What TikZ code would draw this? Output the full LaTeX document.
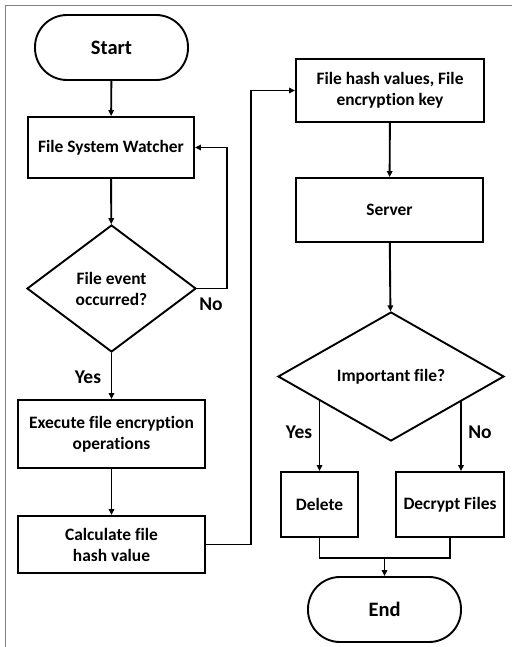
\documentclass[tikz,border=0pt]{standalone}
\usepackage{fontspec}
\setmainfont[Ligatures=NoCommon]{Carlito}
\usetikzlibrary{shapes.geometric,arrows.meta,calc}
\begin{document}
\begin{tikzpicture}[x=1pt,y=-1pt,
  box/.style={draw, line width=1.9pt, rectangle, align=center, inner sep=0pt,
    font=\fontsize{17.4}{21}\selectfont\bfseries},
  term/.style={box, rounded corners=32pt, font=\fontsize{20.5}{24}\selectfont\bfseries},
  dec/.style={draw, diamond, line width=1.9pt, align=center, inner sep=0pt,
    font=\fontsize{17.4}{21}\selectfont\bfseries},
  lab/.style={font=\fontsize{19.5}{23}\selectfont\bfseries, inner sep=0pt},
  arr/.style={line width=1.9pt, -{Triangle[length=6pt,width=5.5pt]}},
  conn/.style={line width=1.9pt}]
\useasboundingbox (0,0) rectangle (512,647);
\draw[gray, line width=1pt] (5.5,647) -- (5.5,6) -- (512,6);

\node[term, minimum width=153, minimum height=65] (start) at (111.5,47.5) {Start};
\node[box, minimum width=166, minimum height=61] (fsw) at (111,147.5) {File System Watcher};
\node[dec, minimum width=169, minimum height=127] (d1) at (111.5,288.5) {File event\\occurred?};
\node[box, minimum width=187, minimum height=68] (exec) at (111.5,434) {Execute file encryption\\operations};
\node[box, minimum width=187, minimum height=57] (calc) at (111.5,544.5) {Calculate file\\hash value};
\node[box, minimum width=188, minimum height=63] (hash) at (390,90.5) {File hash values, File\\encryption key};
\node[box, minimum width=187, minimum height=64] (server) at (389.5,210) {Server};
\node[dec, minimum width=226, minimum height=129] (d2) at (391,376.5) {Important file?};
\node[box, minimum width=77, minimum height=65] (delete) at (319.5,504.5) {Delete};
\node[box, minimum width=108, minimum height=65] (decrypt) at (450,504.5) {Decrypt Files};
\node[term, minimum width=153, minimum height=65] (end) at (384.5,609.5) {End};

\node[lab] (yes1) at (88,377) {Yes};
\node[lab] (no1) at (211,304) {No};
\node[lab] (yes2) at (299,432) {Yes};
\node[lab] (no2) at (480,432) {No};

\draw[arr] (start) -- (fsw);
\draw[arr] (fsw) -- (d1);
\draw[arr] (d1.east) -- ++(30,0) |- (fsw.east);
\draw[arr] (d1) -- (exec);
\draw[arr] (exec) -- (calc);
\draw[arr] (calc.east) -- ++(45,0) |- (hash.west);
\draw[arr] (hash) -- (server);
\draw[arr] (server) -- (d2);
\coordinate (yin) at (delete.north);
\coordinate (nin) at ([xshift=11pt]decrypt.north);
\draw[arr] (yin |- d2.198) -- (yin);
\draw[arr] (nin |- d2.341) -- (nin);
\coordinate (m) at ([yshift=-20pt]delete.south);
\draw[conn] (delete.south) -- (m) -| (decrypt.south);
\draw[arr] (end.north |- m) -- (end.north);
\end{tikzpicture}
\end{document}
